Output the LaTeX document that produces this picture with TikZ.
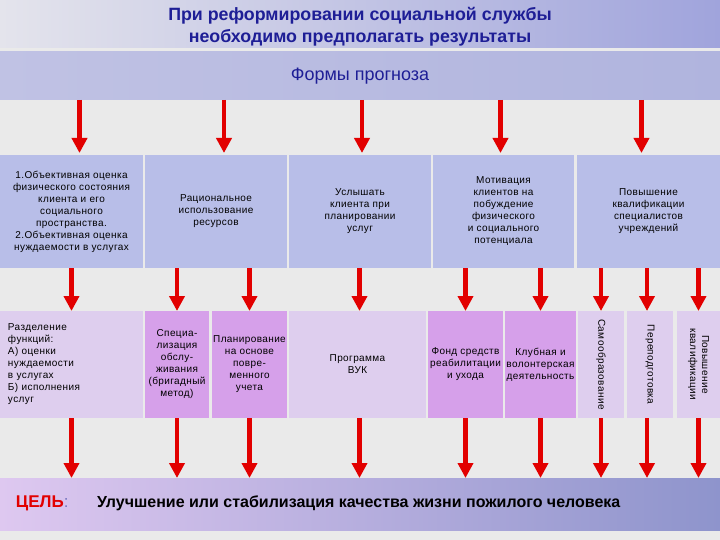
\documentclass[tikz,border=0pt]{standalone}
\usepackage{fontspec}
\setmainfont{Liberation Sans}
\newfontfamily\boxfont[LetterSpace=4]{Liberation Sans}
\usetikzlibrary{arrows.meta,calc}
\definecolor{titleblue}{RGB}{30,30,150}
\definecolor{titleleft}{RGB}{228,228,236}
\definecolor{titleright}{RGB}{160,164,220}
\definecolor{bandleft}{RGB}{192,194,228}
\definecolor{bandright}{RGB}{176,180,222}
\definecolor{rowblue}{RGB}{184,190,232}
\definecolor{rowlilac}{RGB}{222,206,238}
\definecolor{rowpurple}{RGB}{214,160,234}
\definecolor{goalleft}{RGB}{222,200,240}
\definecolor{goalright}{RGB}{142,148,204}
\definecolor{arrowred}{RGB}{226,0,0}
\definecolor{paper}{RGB}{234,234,234}

\begin{document}
\begin{tikzpicture}[x=1pt,y=-1pt,
  every node/.style={inner sep=0pt,outer sep=0pt},
  box/.style={rectangle,align=center,font=\boxfont\fontsize{10}{12}\selectfont},
  arr/.style={arrowred,line width=4.5pt,-{Triangle[width=15pt,length=15pt]}}]
\fill [paper] (0,0) rectangle (720,540);
\useasboundingbox (0,0) rectangle (720,540);

% header bands
\node [rectangle,minimum width=720,minimum height=48,left color=titleleft,right color=titleright] (title) at (360,24) {};
\node [text=titleblue,align=center,font=\fontsize{17.8}{22}\selectfont\bfseries] (titletext) at (360,27)
  {При реформировании социальной службы\\необходимо предполагать результаты};
\node [rectangle,minimum width=720,minimum height=48,left color=bandleft,right color=bandright,
  text=titleblue,font=\fontsize{18}{22}\selectfont] (forms) at (360,76) {Формы прогноза};

% first row
\node [box,fill=rowblue,minimum width=143,minimum height=113] (f1) at (71.5,211.5)
  {1.Объективная оценка\\физического состояния\\клиента и его\\социального\\пространства.\\2.Объективная  оценка\\нуждаемости  в услугах};
\node [box,fill=rowblue,minimum width=142,minimum height=113] (f2) at (216,211.5)
  {Рациональное\\использование\\ресурсов};
\node [box,fill=rowblue,minimum width=142,minimum height=113] (f3) at (360,211.5)
  {Услышать\\клиента при\\планировании\\услуг};
\node [box,fill=rowblue,minimum width=141,minimum height=113] (f4) at (503.5,211.5)
  {Мотивация\\клиентов на\\побуждение\\физического\\и социального\\потенциала};
\node [box,fill=rowblue,minimum width=143,minimum height=113] (f5) at (648.5,211.5)
  {Повышение\\квалификации\\специалистов\\учреждений};

% second row
\node [box,fill=rowlilac,minimum width=143,minimum height=107,align=left,text width=127] (sA) at (71.5,364.5)
  {Разделение\\функций:\\А) оценки\\нуждаемости\\в услугах\\Б) исполнения\\услуг};
\node [box,fill=rowpurple,minimum width=64,minimum height=107] (sB) at (177,364.5)
  {Специа-\\лизация\\обслу-\\живания\\(бригадный\\метод)};
\node [box,fill=rowpurple,minimum width=75,minimum height=107] (sC) at (249.5,364.5)
  {Планирование\\на основе\\повре-\\менного\\учета};
\node [box,fill=rowlilac,minimum width=137,minimum height=107] (sD) at (357.5,364.5)
  {Программа\\ВУК};
\node [box,fill=rowpurple,minimum width=75,minimum height=107] (sE) at (465.5,364.5)
  {Фонд средств\\реабилитации\\и ухода};
\node [box,fill=rowpurple,minimum width=71,minimum height=107] (sF) at (540.5,364.5)
  {Клубная и\\волонтерская\\деятельность};
\node [box,fill=rowlilac,rotate=-90,minimum width=107,minimum height=46] (sG) at (601,364.5)
  {Самообразование};
\node [box,fill=rowlilac,rotate=-90,minimum width=107,minimum height=46] (sH) at (650,364.5)
  {Переподготовка};
\node [box,fill=rowlilac,rotate=-90,minimum width=107,minimum height=43] (sI) at (698.5,364.5)
  {Повышение\\квалификации};

% goal band
\node [rectangle,minimum width=720,minimum height=52,left color=goalleft,right color=goalright] (goal) at (360,504) {};
\node [anchor=west,font=\fontsize{17}{20}\selectfont] (goaltag) at (16,503)
  {\textcolor{arrowred}{\bfseries ЦЕЛЬ}\textcolor{titleblue!60}{:}};
\node [anchor=west,font=\fontsize{16}{20}\selectfont\bfseries] (goaltext) at (97,503)
  {Улучшение или стабилизация качества жизни пожилого человека};

% arrows
\draw [arr] ($(forms.south -| f1.north)+(8,0)$) -- ($(f1.north)+(8,-2)$);
\draw [arr] ($(forms.south -| f2.north)+(8,0)$) -- ($(f2.north)+(8,-2)$);
\draw [arr] ($(forms.south -| f3.north)+(2,0)$) -- ($(f3.north)+(2,-2)$);
\draw [arr] ($(forms.south -| f4.north)+(-3,0)$) -- ($(f4.north)+(-3,-2)$);
\draw [arr] ($(forms.south -| f5.north)+(-7,0)$) -- ($(f5.north)+(-7,-2)$);

\draw [arr] (sA.north |- f1.south) -- (sA.north);
\draw [arr] (sB.north |- f2.south) -- (sB.north);
\draw [arr] (sC.north |- f2.south) -- (sC.north);
\draw [arr] ($(sD.north |- f3.south)+(2,0)$) -- ($(sD.north)+(2,0)$);
\draw [arr] (sE.north |- f4.south) -- (sE.north);
\draw [arr] (sF.north |- f4.south) -- (sF.north);
\draw [arr] (sG.west |- f5.south) -- (sG.west);
\draw [arr] ($(sH.west |- f5.south)+(-3,0)$) -- ($(sH.west)+(-3,0)$);
\draw [arr] (sI.west |- f5.south) -- (sI.west);

\draw [arr] (sA.south) -- (sA.south |- goal.north);
\draw [arr] (sB.south) -- (sB.south |- goal.north);
\draw [arr] (sC.south) -- (sC.south |- goal.north);
\draw [arr] ($(sD.south)+(2,0)$) -- ($(sD.south |- goal.north)+(2,0)$);
\draw [arr] (sE.south) -- (sE.south |- goal.north);
\draw [arr] (sF.south) -- (sF.south |- goal.north);
\draw [arr] (sG.east) -- (sG.east |- goal.north);
\draw [arr] ($(sH.east)+(-3,0)$) -- ($(sH.east |- goal.north)+(-3,0)$);
\draw [arr] (sI.east) -- (sI.east |- goal.north);
\end{tikzpicture}
\end{document}
